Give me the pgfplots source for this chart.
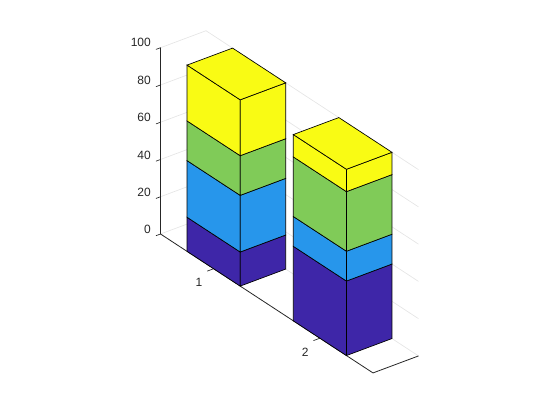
\documentclass[border=0pt]{standalone}
\usepackage{fontspec}
\setmainfont{Liberation Sans}
\usepackage{pgfplots}
\pgfplotsset{compat=1.18}
\definecolor{c1}{RGB}{62,38,168}
\definecolor{c2}{RGB}{39,150,235}
\definecolor{c3}{RGB}{128,203,88}
\definecolor{c4}{RGB}{249,251,20}
\definecolor{ax}{gray}{0.15}
\newcommand{\seg}[5]{%
 \addplot3[fill=#5,draw=black,line width=0.5pt] coordinates {(0,#1,#3)(0,#2,#3)(0,#2,#4)(0,#1,#4)} --cycle;
 \addplot3[fill=#5,draw=black,line width=0.5pt] coordinates {(0,#2,#3)(1,#2,#3)(1,#2,#4)(0,#2,#4)} --cycle;
}
\newcommand{\tp}[3]{%
 \addplot3[fill=#3,draw=black,line width=0.5pt] coordinates {(0,#1,100)(0,#2,100)(1,#2,100)(1,#1,100)} --cycle;
}
\newcommand{\tkz}[1]{\addplot3[ax,line width=0.5pt] coordinates {(-0.1,0.5,#1)(0,0.5,#1)};}
\newcommand{\tky}[1]{\addplot3[ax,line width=0.5pt] coordinates {(-0.14,#1,0)(0,#1,0)};}
\begin{document}
\begin{tikzpicture}
\useasboundingbox (0,0) rectangle (420pt,315pt);
\begin{axis}[
 at={(120.375pt,139.5pt)},anchor=origin,
 x={(34.125pt,12.75pt)},y={(-79.69pt,52.1pt)},z={(0pt,1.397pt)},y dir=reverse,
 xmin=0,xmax=1,ymin=0.5,ymax=2.5,zmin=0,zmax=100,
 xtick=\empty,ytick={1,2},ztick={0,20,40,60,80,100},
 ztick pos=left,ytick pos=left,
 grid=major,grid style={gray!20,line width=0.5pt},
 axis line style={draw=none},
 clip=false,
 major tick length=0pt,
 tick label style={font=\fontsize{9}{11}\selectfont,text=ax},
 y tick label style={xshift=-6pt,yshift=-3pt},
 z tick label style={xshift=-3.75pt,yshift=2.5pt},
 /pgf/number format/assume math mode=true,
]
\addplot3[ax,line width=0.6pt] coordinates {(0,0.5,100)(0,0.5,0)(0,2.5,0)(1,2.5,0)};
\tkz{0}\tkz{20}\tkz{40}\tkz{60}\tkz{80}\tkz{100}
\tky{1}\tky{2}
\seg{0.75}{1.25}{0}{18.3}{c1}
\seg{0.75}{1.25}{18.3}{48.7}{c2}
\seg{0.75}{1.25}{48.7}{70}{c3}
\seg{0.75}{1.25}{70}{100}{c4}
\tp{0.75}{1.25}{c4}
\seg{1.75}{2.25}{0}{40}{c1}
\seg{1.75}{2.25}{40}{56}{c2}
\seg{1.75}{2.25}{56}{88}{c3}
\seg{1.75}{2.25}{88}{100}{c4}
\tp{1.75}{2.25}{c4}
\end{axis}
\end{tikzpicture}
\end{document}
